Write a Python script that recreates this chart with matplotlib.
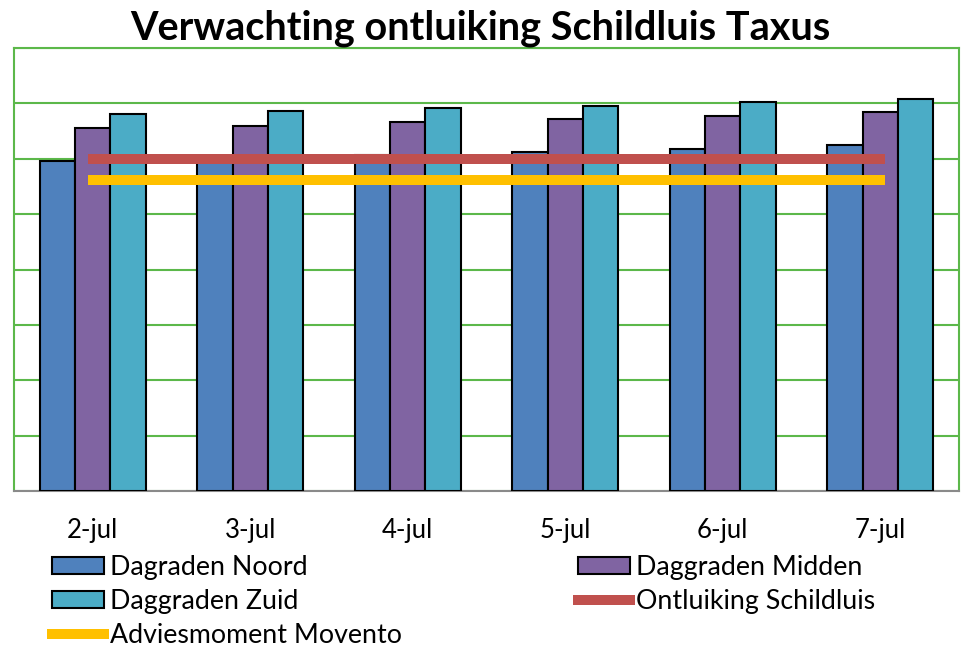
import matplotlib
matplotlib.use("Agg")
import matplotlib.pyplot as plt
import numpy as np

plt.rcParams['font.family'] = ['Lato', 'DejaVu Sans']

# Data (y units: dagraden, gridline step 50 assumed - no tick labels in source)
dates = ['2-jul', '3-jul', '4-jul', '5-jul', '6-jul', '7-jul']
noord = [298, 301, 303, 306, 309, 312]
midden = [328, 330, 333, 336, 339, 342]
zuid = [340, 343, 346, 348, 351, 354]
ontluiking = [300, 300, 300, 300, 300, 300]
advies = [281, 281, 281, 281, 281, 281]

x = np.arange(len(dates))
w = 0.224

fig = plt.figure(figsize=(9.61, 6.49), dpi=100)
ax = fig.add_axes([14 / 961, 158 / 649, 945 / 961, 443 / 649])

b1 = ax.bar(x - w, noord, w, color='#4f81bd', edgecolor='black', linewidth=1.5, zorder=3)
b2 = ax.bar(x, midden, w, color='#8064a2', edgecolor='black', linewidth=1.5, zorder=3)
b3 = ax.bar(x + w, zuid, w, color='#4bacc6', edgecolor='black', linewidth=1.5, zorder=3)
l1, = ax.plot(x, ontluiking, color='#c0504d', linewidth=7.2, solid_capstyle='projecting', zorder=4)
l2, = ax.plot(x, advies, color='#ffc000', linewidth=7.2, solid_capstyle='projecting', zorder=4)

ax.set_xlim(-0.5, 5.5)
ax.set_ylim(0, 400)
ax.set_yticks(np.arange(0, 401, 50))
ax.set_yticklabels([])
ax.set_xticks(x)
ax.set_xticklabels(dates, fontsize=18.5)
ax.tick_params(axis='both', length=0)
ax.tick_params(axis='x', pad=19.5)
ax.grid(axis='y', color='#5cb84a', linewidth=1.5, zorder=0)
ax.set_axisbelow(True)
for s in ['left', 'top', 'right']:
    ax.spines[s].set_color('#5cb84a')
    ax.spines[s].set_linewidth(1.5)
ax.spines['bottom'].set_color('#8a8a8a')
ax.spines['bottom'].set_linewidth(1.5)

fig.text(0.5, 0.956, 'Verwachting ontluiking Schildluis Taxus', ha='center', va='center',
         fontsize=28.5, fontweight='bold')

leg_kw = dict(loc='upper left', frameon=False, fontsize=19.3, handlelength=1.95,
              handleheight=0.6, handletextpad=0.22, labelspacing=0.33, borderpad=0, borderaxespad=0)
fig.legend([b1, b3, l2], ['Dagraden Noord', 'Daggraden Zuid', 'Adviesmoment Movento'],
           bbox_to_anchor=(52 / 961, 1 - 555 / 649), **leg_kw)
fig.legend([b2, l1], ['Daggraden Midden', 'Ontluiking Schildluis'],
           bbox_to_anchor=(578 / 961, 1 - 555 / 649), **leg_kw)

fig.savefig('out.png', dpi=100)
